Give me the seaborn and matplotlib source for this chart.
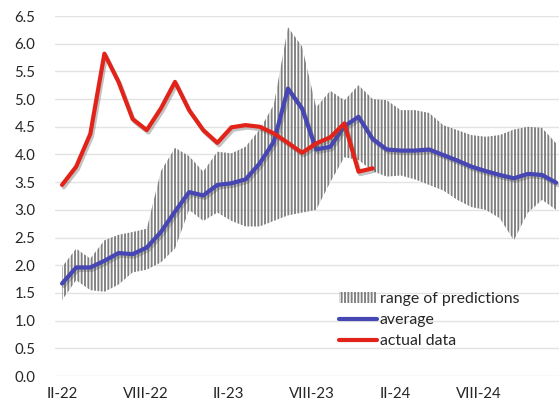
import numpy as np
import pandas as pd
import matplotlib
matplotlib.use("Agg")
import matplotlib.pyplot as plt
import matplotlib.patheffects as pe
from matplotlib.patches import Patch
from matplotlib.lines import Line2D
import seaborn as sns

# ---- data (monthly, II-22 .. I-25) ----
months = list(range(36))
average = [1.67, 1.96, 1.96, 2.08, 2.22, 2.20, 2.32, 2.60, 2.97, 3.32,
           3.26, 3.45, 3.48, 3.55, 3.84, 4.23, 5.19, 4.83, 4.09, 4.14,
           4.51, 4.68, 4.28, 4.09, 4.07, 4.07, 4.09, 3.99, 3.89, 3.78,
           3.70, 3.63, 3.57, 3.65, 3.63, 3.49]
pred_low = [1.37, 1.73, 1.55, 1.52, 1.65, 1.87, 1.92, 2.05, 2.30, 3.00,
            2.80, 2.95, 2.80, 2.70, 2.70, 2.80, 2.90, 2.95, 3.00, 3.50,
            3.95, 3.90, 3.70, 3.60, 3.62, 3.55, 3.45, 3.35, 3.18, 3.05,
            3.00, 2.85, 2.45, 2.95, 3.18, 3.00]
pred_high = [1.97, 2.30, 2.12, 2.45, 2.55, 2.60, 2.66, 3.70, 4.12, 3.97,
             3.69, 4.05, 4.02, 4.14, 4.45, 4.90, 6.30, 5.95, 4.85, 5.15,
             4.98, 5.25, 5.00, 4.98, 4.80, 4.80, 4.75, 4.53, 4.44, 4.35,
             4.32, 4.35, 4.45, 4.50, 4.48, 4.20]
actual_months = list(range(23))
actual = [3.45, 3.78, 4.37, 5.82, 5.31, 4.64, 4.44, 4.83, 5.31, 4.80,
          4.44, 4.21, 4.49, 4.53, 4.50, 4.38, 4.21, 4.03, 4.20, 4.31,
          4.56, 3.69, 3.75]
tick_labels = ["II-22", "VIII-22", "II-23", "VIII-23", "II-24", "VIII-24"]
y_ticks = [0.0, 0.5, 1.0, 1.5, 2.0, 2.5, 3.0, 3.5, 4.0, 4.5, 5.0, 5.5, 6.0, 6.5]

df_avg = pd.DataFrame({"month": months, "value": average})
df_act = pd.DataFrame({"month": actual_months, "value": actual})

sns.set_theme(style="white")
plt.rcParams["font.family"] = ["Lato", "DejaVu Sans"]
plt.rcParams["hatch.linewidth"] = 1.35

BLUE = "#4646b4"
RED = "#e2231a"
GREY = "#7f7f7f"
TXT = "#262626"

fig = plt.figure(figsize=(5.59, 4.05), dpi=100)
ax = fig.add_axes([55 / 559, 29 / 405, 504 / 559, 360 / 405])

# range of predictions (hatched band)
ax.fill_between(months, pred_low, pred_high, facecolor="none",
                edgecolor=GREY, hatch="|||||", linewidth=0, zorder=2)

shadow = [pe.SimpleLineShadow(offset=(1.2, -1.8), shadow_color="#555555", alpha=0.35),
          pe.Normal()]
sns.lineplot(data=df_avg, x="month", y="value", ax=ax, color=BLUE, lw=3.0,
             zorder=4, path_effects=shadow, legend=False)
sns.lineplot(data=df_act, x="month", y="value", ax=ax, color=RED, lw=3.0,
             zorder=5, path_effects=shadow, legend=False)

ax.set_xlim(-0.5, 35.2)
ax.set_ylim(0, 6.5)
ax.set_yticks(y_ticks)
ax.set_yticklabels([f"{v:.1f}" for v in y_ticks])
ax.set_xticks([i * 5.9 for i in range(len(tick_labels))])
ax.set_xticklabels(tick_labels)
ax.tick_params(axis="both", length=0, labelsize=10.8, labelcolor=TXT)
ax.tick_params(axis="y", pad=14)
ax.tick_params(axis="x", pad=8)
ax.grid(axis="y", color="#e3e3e3", lw=1.0)
ax.set_axisbelow(True)
for s in ax.spines.values():
    s.set_visible(False)
ax.set_xlabel("")
ax.set_ylabel("")

handles = [Patch(facecolor="none", edgecolor=GREY, hatch="|||||", linewidth=0),
           Line2D([], [], color=BLUE, lw=3.0),
           Line2D([], [], color=RED, lw=3.0)]
leg = ax.legend(handles, ["range of predictions", "average", "actual data"],
                loc="upper left", bbox_to_anchor=(0.55, 0.25), frameon=False,
                fontsize=11.4, handlelength=2.45, handleheight=0.7,
                handletextpad=0.15, labelspacing=0.43, borderaxespad=0)
for t in leg.get_texts():
    t.set_color(TXT)

fig.savefig("out.png", dpi=100)
